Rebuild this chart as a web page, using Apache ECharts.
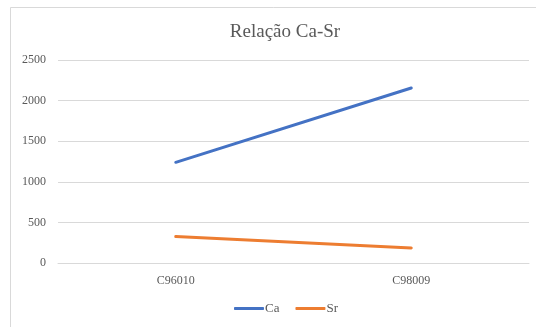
<!DOCTYPE html>
<html><head><meta charset="utf-8">
<script src="https://cdn.jsdelivr.net/npm/echarts@6/dist/echarts.min.js"></script>
<style>html,body{margin:0;padding:0;background:#fff}#c{width:536px;height:327px}</style>
</head><body><div id="c"></div>
<script>
const categories = ['C96010', 'C98009'];
const caValues = [1240, 2155];
const srValues = [325, 185];
const yTicks = [0, 500, 1000, 1500, 2000, 2500];

const chart = echarts.init(document.getElementById('c'), null, {renderer: 'canvas'});
const serif = '"Liberation Serif", "DejaVu Serif", serif';
chart.setOption({
  animation: false,
  backgroundColor: '#fff',
  graphic: [{
    type: 'rect', left: 10, top: 7, z: -1,
    shape: {width: 540, height: 330},
    style: {fill: '#fff', stroke: '#d9d9d9', lineWidth: 1}
  }],
  title: {
    text: 'Relação Ca-Sr', left: 280, top: 18, textAlign: 'center',
    textStyle: {fontFamily: serif, fontSize: 19, fontWeight: 'normal', color: '#595959'}
  },
  legend: {
    top: 297, left: 229,
    itemWidth: 30, itemHeight: 3, itemGap: 16,
    icon: 'roundRect',
    textStyle: {fontFamily: serif, fontSize: 13, color: '#595959', padding: [0,0,0,-4]},
    data: ['Ca', 'Sr']
  },
  grid: {left: 58, right: 7, top: 60, bottom: 64},
  xAxis: {
    type: 'category', data: categories, boundaryGap: true,
    axisLine: {show: true, lineStyle: {color: '#d9d9d9'}},
    axisTick: {show: false},
    axisLabel: {fontFamily: serif, fontSize: 12, color: '#595959', margin: 12}
  },
  yAxis: {
    type: 'value', min: yTicks[0], max: yTicks[yTicks.length-1], interval: 500,
    axisLine: {show: false}, axisTick: {show: false},
    axisLabel: {fontFamily: serif, fontSize: 12, color: '#595959', margin: 12,
      formatter: v => String(v)},
    splitLine: {lineStyle: {color: '#d9d9d9', width: 1}}
  },
  series: [
    {name: 'Ca', type: 'line', data: caValues, symbol: 'none',
     lineStyle: {color: '#4472C4', width: 3, cap: 'round'}, itemStyle: {color: '#4472C4'}},
    {name: 'Sr', type: 'line', data: srValues, symbol: 'none',
     lineStyle: {color: '#ED7D31', width: 3, cap: 'round'}, itemStyle: {color: '#ED7D31'}}
  ]
});
</script></body></html>
